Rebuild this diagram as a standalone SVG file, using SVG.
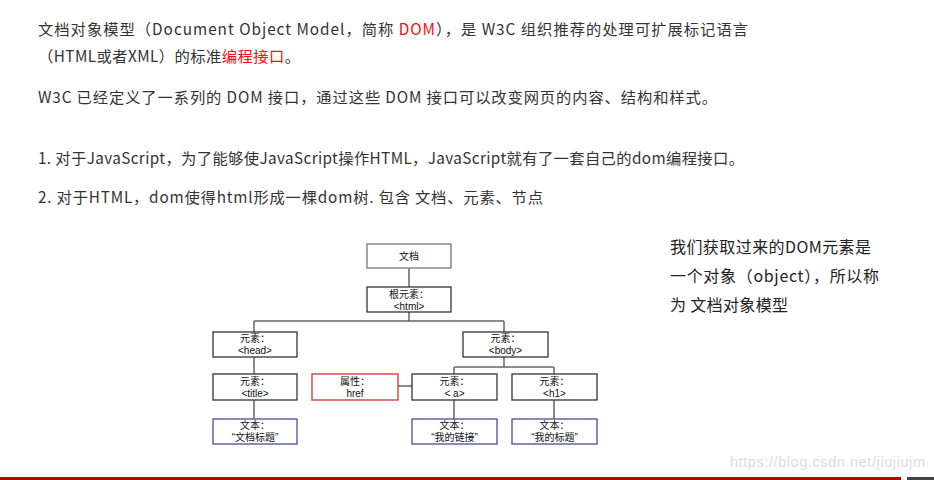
<svg xmlns="http://www.w3.org/2000/svg" width="934" height="480" viewBox="0 0 934 480">
<style>
.t{font-family:"Noto Sans CJK SC","Noto Sans",sans-serif;font-size:15.3px;fill:#333}
.r{font-family:"Noto Sans CJK SC","Noto Sans",sans-serif;font-size:16px;fill:#222}
.red{fill:#f01010}
.d{font-family:"Liberation Sans","Noto Sans CJK SC",sans-serif;font-size:10px;fill:#111;text-anchor:middle}
.box{fill:#fff;stroke:#333;stroke-width:1.3}
.gbox{fill:#fff;stroke:#888;stroke-width:1.5}
.rbox{fill:#fff;stroke:#d03030;stroke-width:1.3}
.bbox{fill:#fff;stroke:#4a4aa8;stroke-width:1.3}
.c{fill:none;stroke:#666;stroke-width:1.5}
</style>
<rect width="934" height="480" fill="#fff"/>
<g id="intro">
<text class="t" x="38" y="35" textLength="710" lengthAdjust="spacing">文档对象模型（Document Object Model，简称 <tspan class="red">DOM</tspan>），是 W3C 组织推荐的处理可扩展标记语言</text>
<text class="t" x="38" y="62" textLength="262" lengthAdjust="spacing">（HTML或者XML）的标准<tspan class="red">编程接口</tspan>。</text>
<text class="t" x="38" y="103" textLength="679" lengthAdjust="spacing">W3C 已经定义了一系列的 DOM 接口，通过这些 DOM 接口可以改变网页的内容、结构和样式。</text>
<text class="t" x="38" y="164" textLength="706" lengthAdjust="spacing">1. 对于JavaScript，为了能够使JavaScript操作HTML，JavaScript就有了一套自己的dom编程接口。</text>
<text class="t" x="38" y="203" textLength="505" lengthAdjust="spacing">2. 对于HTML，dom使得html形成一棵dom树. 包含 文档、元素、节点</text>
</g>
<g id="note">
<text class="r" x="670" y="253" textLength="201" lengthAdjust="spacing">我们获取过来的DOM元素是</text>
<text class="r" x="670" y="282" textLength="209" lengthAdjust="spacing">一个对象（object），所以称</text>
<text class="r" x="670" y="311" textLength="118" lengthAdjust="spacing">为 文档对象模型</text>
</g>
<g id="connectors">
<path class="c" d="M409 268V287M409 312V321M254 321H504M254 321V332M504 321V332"/>
<path class="c" d="M254 357V374M254 400V419"/>
<path class="c" d="M504 357V367M454 367H554M454 367V374M554 367V374"/>
<path class="c" d="M398 386H412M454 400V419M554 400V419"/>
</g>
<g id="node-document">
<rect class="gbox" x="367" y="244" width="84" height="24"/>
<text class="d" x="409" y="259.5">文档</text>
</g>
<g id="node-html">
<rect class="box" x="367" y="287" width="84" height="25"/>
<text class="d" x="409" y="297.5">根元素：</text>
<text class="d" x="409" y="309.5">&lt;html&gt;</text>
</g>
<g id="node-head">
<rect class="box" x="213" y="332" width="84" height="25"/>
<text class="d" x="255" y="342">元素：</text>
<text class="d" x="255" y="354">&lt;head&gt;</text>
</g>
<g id="node-body">
<rect class="box" x="463" y="332" width="85" height="25"/>
<text class="d" x="505.5" y="342">元素：</text>
<text class="d" x="505.5" y="354">&lt;body&gt;</text>
</g>
<g id="node-title">
<rect class="box" x="213" y="374" width="84" height="26"/>
<text class="d" x="255" y="385">元素：</text>
<text class="d" x="255" y="397">&lt;title&gt;</text>
</g>
<g id="node-href">
<rect class="rbox" x="312" y="374" width="86" height="26"/>
<text class="d" x="355" y="385">属性：</text>
<text class="d" x="355" y="397">href</text>
</g>
<g id="node-a">
<rect class="box" x="412" y="374" width="85" height="26"/>
<text class="d" x="454.5" y="385">元素：</text>
<text class="d" x="454.5" y="397">&lt; a&gt;</text>
</g>
<g id="node-h1">
<rect class="box" x="512" y="374" width="85" height="26"/>
<text class="d" x="554.5" y="385">元素：</text>
<text class="d" x="554.5" y="397">&lt;h1&gt;</text>
</g>
<g id="node-text-title">
<rect class="bbox" x="213" y="419" width="84" height="25"/>
<text class="d" x="255" y="429">文本：</text>
<text class="d" x="255" y="441">“文档标题”</text>
</g>
<g id="node-text-a">
<rect class="bbox" x="412" y="419" width="85" height="25"/>
<text class="d" x="454.5" y="429">文本：</text>
<text class="d" x="454.5" y="441">“我的链接”</text>
</g>
<g id="node-text-h1">
<rect class="bbox" x="512" y="419" width="85" height="25"/>
<text class="d" x="554.5" y="429">文本：</text>
<text class="d" x="554.5" y="441">“我的标题”</text>
</g>
<text x="730" y="467" font-family="Liberation Sans,Arial,sans-serif" font-size="14.5" fill="#dcdcdc" textLength="195" lengthAdjust="spacing">https://blog.csdn.net/jiujiujm</text>
<rect x="0" y="477" width="901" height="3" fill="#c00000"/>
<rect x="907" y="477" width="27" height="3" fill="#444"/>
</svg>
